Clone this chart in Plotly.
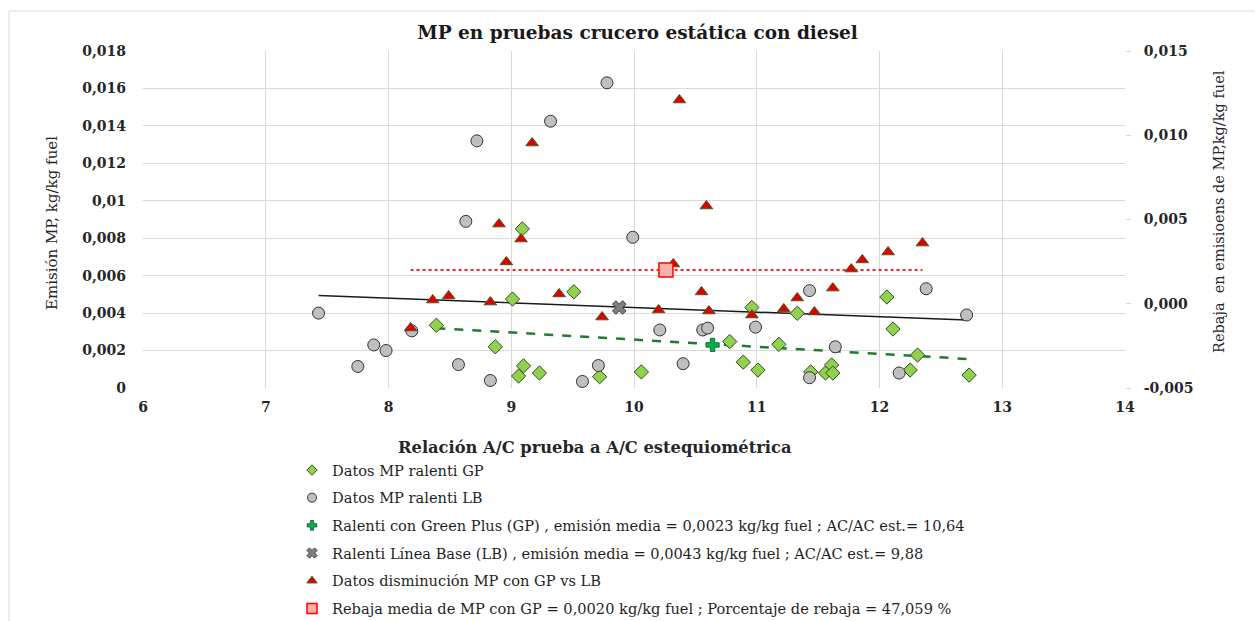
import numpy as np
import plotly.graph_objects as go

# ---------------- data ----------------
gp_x = [8.39, 8.87, 9.01, 9.06, 9.09, 9.10, 9.23, 9.51, 9.72, 10.06, 10.78, 10.89, 10.96,
        11.01, 11.18, 11.33, 11.44, 11.56, 11.61, 11.62, 12.06, 12.11, 12.25, 12.31, 12.73]
gp_y = [0.00335, 0.0022, 0.00475, 0.00064, 0.0085, 0.00118, 0.0008, 0.00514, 0.0006, 0.00086,
        0.00248, 0.00138, 0.0043, 0.00096, 0.00233, 0.00399, 0.00086, 0.0008, 0.00123, 0.0008,
        0.00486, 0.00315, 0.00096, 0.00176, 0.00069]

lb_x = [7.43, 7.75, 7.88, 7.98, 8.19, 8.57, 8.63, 8.72, 8.83, 9.32, 9.58, 9.71, 9.78, 9.99,
        10.21, 10.40, 10.56, 10.60, 10.99, 11.43, 11.43, 11.64, 12.16, 12.38, 12.71]
lb_y = [0.0040, 0.00115, 0.0023, 0.0020, 0.00305, 0.00125, 0.0089, 0.0132, 0.0004, 0.01425,
        0.00035, 0.0012, 0.0163, 0.00805, 0.0031, 0.0013, 0.0031, 0.0032, 0.00325, 0.0052,
        0.00055, 0.0022, 0.0008, 0.0053, 0.0039]

dec_x = [8.18, 8.36, 8.49, 8.83, 8.90, 8.96, 9.08, 9.17, 9.39, 9.74, 10.20, 10.32, 10.37,
         10.55, 10.59, 10.61, 10.96, 11.22, 11.33, 11.47, 11.62, 11.77, 11.86, 12.07, 12.35]
dec_y = [-0.00144, 0.00022, 0.00046, 0.0001, 0.00473, 0.00248, 0.00384, 0.00954, 0.00058,
         -0.00079, -0.00037, 0.00236, 0.01209, 0.0007, 0.0058, -0.00043, -0.00067, -0.00031,
         0.00034, -0.00049, 0.00093, 0.00206, 0.0026, 0.00307, 0.0036]

gp_mean = (10.64, 0.0023)
lb_mean = (9.88, 0.0043)
dec_mean = (10.26, 0.0020)

x_ticks = [6, 7, 8, 9, 10, 11, 12, 13, 14]
y_ticks = [0, 0.002, 0.004, 0.006, 0.008, 0.01, 0.012, 0.014, 0.016, 0.018]
y_ticktext = ["0", "0,002", "0,004", "0,006", "0,008", "0,01", "0,012", "0,014", "0,016", "0,018"]
y2_ticks = [-0.005, 0, 0.005, 0.010, 0.015]
y2_ticktext = ["-0,005", "0,000", "0,005", "0,010", "0,015"]

names = [
    "Datos MP ralenti GP",
    "Datos MP ralenti LB",
    "Ralenti con Green Plus (GP) , emisión media = 0,0023 kg/kg fuel ; AC/AC est.= 10,64",
    "Ralenti Línea Base (LB) , emisión media = 0,0043 kg/kg fuel ; AC/AC est.= 9,88",
    "Datos disminución MP con GP vs LB",
    "Rebaja media de MP con GP = 0,0020 kg/kg fuel ; Porcentaje de rebaja = 47,059 %",
]

SERIF = "DejaVu Serif"

# marker styles: (symbol, fill, outline, outline width, plot size, legend size)
styles = [
    ("diamond", "#92d050", "#2f4f1a", 1, 11, 8),
    ("circle", "#bfbfbf", "#303030", 1, 12, 9),
    ("cross", "#00b050", "#1f6b35", 1, 11, 8),
    ("x", "#7f7f7f", "#404040", 1, 12, 9),
    ("triangle-up", "#e00000", "#4a5a20", 1, 11, 9),
    ("square", "#f7b3ab", "#ff0000", 1.5, 14, 10),
]

fig = go.Figure()

# trend lines (linear fits of the data, like the spreadsheet trendlines)
def trend(xs, ys):
    c = np.polyfit(xs, ys, 1)
    xx = np.array([min(xs), max(xs)])
    return xx, np.polyval(c, xx)

tx, ty = trend(lb_x, lb_y)
fig.add_trace(go.Scatter(x=tx, y=ty, mode="lines", line=dict(color="#1a1a1a", width=1.5),
                         showlegend=False, hoverinfo="skip"))
tx, ty = trend(gp_x, gp_y)
fig.add_trace(go.Scatter(x=tx, y=ty, mode="lines", line=dict(color="#1f7a32", width=2.5, dash="dash"),
                         showlegend=False, hoverinfo="skip"))
fig.add_trace(go.Scatter(x=[min(dec_x), max(dec_x)], y=[dec_mean[1], dec_mean[1]], yaxis="y2",
                         mode="lines", line=dict(color="#ff2020", width=2, dash="dot"),
                         showlegend=False, hoverinfo="skip"))

series = [
    (gp_x, gp_y, "y"),
    (lb_x, lb_y, "y"),
    ([gp_mean[0]], [gp_mean[1]], "y"),
    ([lb_mean[0]], [lb_mean[1]], "y"),
    (dec_x, dec_y, "y2"),
    ([dec_mean[0]], [dec_mean[1]], "y2"),
]

for i, ((xs, ys, ax), (sym, fill, edge, ew, size, lsize)) in enumerate(zip(series, styles)):
    grp = "g%d" % i
    fig.add_trace(go.Scatter(x=xs, y=ys, yaxis=ax, mode="markers", name=names[i],
                             legendgroup=grp, showlegend=False,
                             marker=dict(symbol=sym, size=size, color=fill,
                                         line=dict(color=edge, width=ew))))
    # legend entry (smaller symbol, as in the reference legend)
    fig.add_trace(go.Scatter(x=[None], y=[None], yaxis=ax, mode="markers", name=names[i],
                             legendgroup=grp, showlegend=True,
                             marker=dict(symbol=sym, size=lsize, color=fill,
                                         line=dict(color=edge, width=ew))))

grid = "#d9d9d9"
tickfont = dict(family=SERIF, size=14, color="#262626", weight="bold")

fig.update_layout(
    width=1255, height=621,
    margin=dict(l=143, r=130, t=51, b=233, autoexpand=False),
    paper_bgcolor="white", plot_bgcolor="white",
    title=dict(text="MP en pruebas crucero estática con diesel", x=0.508, xanchor="center",
               y=0.948, yanchor="middle",
               font=dict(family=SERIF, size=18.5, color="#1a1a1a", weight="bold")),
    xaxis=dict(range=[6, 14], tickvals=x_ticks, showgrid=True, gridcolor=grid, gridwidth=1,
               zeroline=False, showline=False, tickfont=tickfont, ticks="",
               ticklabelstandoff=9),
    yaxis=dict(range=[0, 0.018], tickvals=y_ticks, ticktext=y_ticktext, showgrid=True,
               gridcolor=grid, gridwidth=1, zeroline=False, showline=False, tickfont=tickfont,
               ticklabelstandoff=16),
    yaxis2=dict(range=[-0.005, 0.015], tickvals=y2_ticks, ticktext=y2_ticktext, overlaying="y",
                side="right", showgrid=False, zeroline=False, showline=False, tickfont=tickfont,
                ticks="outside", ticklen=5, tickcolor=grid, ticklabelstandoff=10),
    showlegend=True,
    legend=dict(x=(292 - 143) / 982, xanchor="left", y=-(454 - 388) / 337, yanchor="top",
                orientation="v", tracegroupgap=5.7, bgcolor="rgba(0,0,0,0)",
                font=dict(family=SERIF, size=14.6, color="#1f1f1f"), itemsizing="trace"),
    annotations=[
        dict(text="Emisión MP, kg/kg fuel", xref="paper", yref="paper",
             x=(52 - 143) / 982, y=(388 - 223) / 337, textangle=-90, showarrow=False,
             xanchor="center", yanchor="middle",
             font=dict(family=SERIF, size=15, color="#262626")),
        dict(text="Rebaja  en emisioens de MP,kg/kg fuel", xref="paper", yref="paper",
             x=(1219 - 143) / 982, y=(388 - 212) / 337, textangle=-90, showarrow=False,
             xanchor="center", yanchor="middle",
             font=dict(family=SERIF, size=14.5, color="#262626")),
        dict(text="Relación A/C prueba a A/C estequiométrica", xref="paper", yref="paper",
             x=(595 - 143) / 982, y=(388 - 447) / 337, showarrow=False,
             xanchor="center", yanchor="middle",
             font=dict(family=SERIF, size=16.3, color="#262626", weight="bold")),
    ],
    shapes=[dict(type="rect", xref="paper", yref="paper",
                 x0=(9 - 143) / 982, x1=1.2, y0=-1.0, y1=(388 - 11) / 337,
                 line=dict(color="#d9d9d9", width=1), layer="below")],
)

fig.write_html("out.html")
